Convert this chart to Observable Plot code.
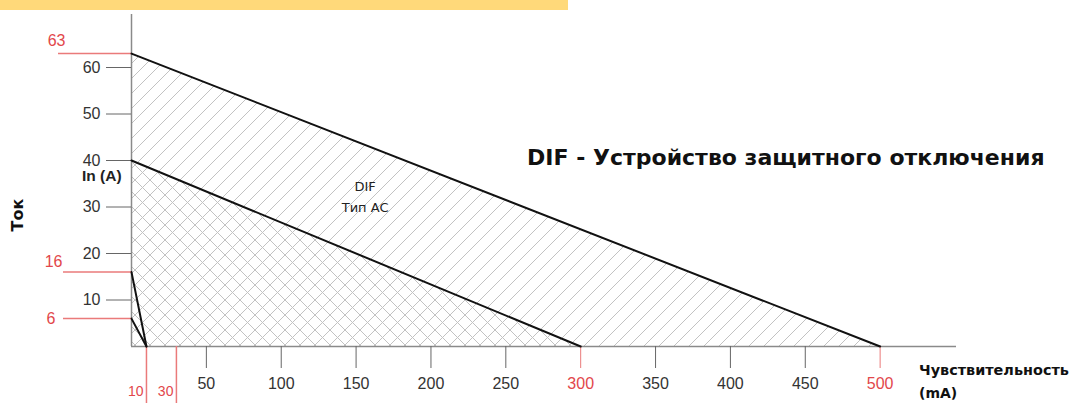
<!DOCTYPE html>
<html><head><meta charset="utf-8">
<script src="https://cdn.jsdelivr.net/npm/d3@7"></script>
<script src="https://cdn.jsdelivr.net/npm/@observablehq/plot@0.6"></script>
<style>
body{margin:0;background:#fff;}
#wrap{position:relative;width:1075px;height:403px;overflow:hidden;background:#fff;}
#wrap svg{position:absolute;left:0;top:0;}
#bar{position:absolute;left:0;top:0;width:568px;height:10px;background:#ffd97a;z-index:2;}
.lbl{position:absolute;font-family:"DejaVu Sans",Lato,sans-serif;font-weight:bold;color:#111;white-space:nowrap;line-height:1;z-index:2;}
.arial{font-family:"Liberation Sans",Arial,sans-serif;font-weight:bold;}
</style></head><body>
<div id="wrap">
  <div id="bar"></div>
  <div class="lbl fit" data-w="518" data-cy="158" style="left:527px;font-size:20px;">DIF - Устройство защитного отключения</div>
  <div class="lbl arial" style="left:82px;top:168px;font-size:15.5px;color:#222;">In (A)</div>
  <div class="lbl" style="left:18px;top:215px;font-size:16px;transform:translate(-50%,-50%) rotate(-90deg);">Ток</div>
  <div class="lbl fit" data-w="150" data-cy="370" style="left:919px;font-size:14px;">Чувствительность</div>
  <div class="lbl" style="left:919px;top:386px;font-size:14px;">(mA)</div>
</div>
<script>
// --- data ---
const ratingNames = ["63 A", "40 A", "16 A", "6 A"];
const ratedCurrent = [63, 40, 16, 6];          // In (A) at 0 mA
const tripSensitivity = [500, 300, 10, 10];    // mA where the limit reaches 0 A
const yTicks = [10, 20, 30, 40, 50, 60];
const yRedTop = [63];
const yRedLow = [16];
const yRedSix = [6];
const xTicks = [50, 100, 150, 200, 250, 350, 400, 450];
const xRedTicks = [300, 500];
const xRedBottom = [10, 30];
const annotations = [{label: "DIF\nТип AC", mA: 156, A: 32.7}];

const red = "#e2474b";
const redLine = "#ea7a7a";

const lines = ratingNames.flatMap((name, i) => [
  {name, x: 0, y: ratedCurrent[i]},
  {name, x: tripSensitivity[i], y: 0}
]);
const byName = n => lines.filter(d => d.name === n);

const chart = Plot.plot({
  width: 1075,
  height: 403,
  marginLeft: 131,
  marginRight: 119,
  marginTop: 14,
  marginBottom: 57,
  style: {fontFamily: "'Liberation Sans', Arial, sans-serif", fontSize: "16px", background: "transparent", overflow: "visible"},
  x: {domain: [0, 551], label: null},
  y: {domain: [0, 71.4], label: null},
  marks: [
    Plot.areaY(byName("63 A"), {x: "x", y: "y", fill: "url(#hatchR)"}),
    Plot.areaY(byName("40 A"), {x: "x", y: "y", fill: "url(#hatchL)"}),
    Plot.ruleX([0], {stroke: "#8a8a8a", strokeWidth: 1.5}),
    Plot.ruleY([0], {stroke: "#8a8a8a", strokeWidth: 1.5}),
    Plot.axisY(yTicks, {tickSize: 25, tickPadding: 6, stroke: "#666", fill: "#333", label: null}),
    Plot.axisY(yRedTop, {tickSize: 73, tickFormat: () => "", stroke: redLine, strokeWidth: 1.5, label: null}),
    Plot.axisY(yRedLow.concat(yRedSix), {tickSize: 68, tickFormat: () => "", stroke: redLine, strokeWidth: 1.5, label: null}),
    Plot.text(yRedTop, {y: d => d, frameAnchor: "left", dx: -66, dy: -13, textAnchor: "end", fill: red}),
    Plot.text(yRedLow, {y: d => d, frameAnchor: "left", dx: -69, dy: -10, textAnchor: "end", fill: red}),
    Plot.text(yRedSix, {y: d => d, frameAnchor: "left", dx: -76, dy: 0, textAnchor: "end", fill: red}),
    Plot.axisX(xTicks, {tickSize: 22, tickPadding: 9, stroke: "#666", fill: "#333", label: null}),
    Plot.axisX(xRedTicks, {tickSize: 22, tickPadding: 9, stroke: redLine, fill: red, label: null}),
    Plot.axisX(xRedBottom, {tickSize: 57, tickFormat: () => "", stroke: redLine, strokeWidth: 1.5, label: null}),
    Plot.text(xRedBottom, {x: d => d, frameAnchor: "bottom", dy: 49, dx: -3, textAnchor: "end", fill: red, fontSize: 14}),
    Plot.line(lines, {x: "x", y: "y", z: "name", stroke: "#111", strokeWidth: 2}),
    Plot.text(annotations, {x: "mA", y: "A", text: "label", fontFamily: "'DejaVu Sans', Lato, sans-serif", fontSize: 13, lineHeight: 1.65, fill: "#222"})
  ]
});

// hatch patterns
const ns = "http://www.w3.org/2000/svg";
const defs = document.createElementNS(ns, "defs");
function pattern(id, d) {
  const p = document.createElementNS(ns, "pattern");
  p.setAttribute("id", id);
  p.setAttribute("patternUnits", "userSpaceOnUse");
  p.setAttribute("width", 15);
  p.setAttribute("height", 15);
  const path = document.createElementNS(ns, "path");
  path.setAttribute("d", d);
  path.setAttribute("stroke", "#c2c2c2");
  path.setAttribute("stroke-width", 1);
  path.setAttribute("fill", "none");
  p.appendChild(path);
  defs.appendChild(p);
}
pattern("hatchR", "M0,15L15,0M-3,3L3,-3M12,18L18,12");
pattern("hatchL", "M0,0L15,15M-3,12L3,18M12,-3L18,3");
chart.insertBefore(defs, chart.firstChild);

document.getElementById("wrap").appendChild(chart);

// fit label widths to the reference
document.querySelectorAll(".fit").forEach(el => {
  const target = +el.dataset.w;
  const fs = parseFloat(el.style.fontSize);
  const w = el.getBoundingClientRect().width;
  const nfs = fs * target / w;
  el.style.fontSize = nfs + "px";
  el.style.top = (+el.dataset.cy - nfs / 2) + "px";
});
</script>
</body></html>
